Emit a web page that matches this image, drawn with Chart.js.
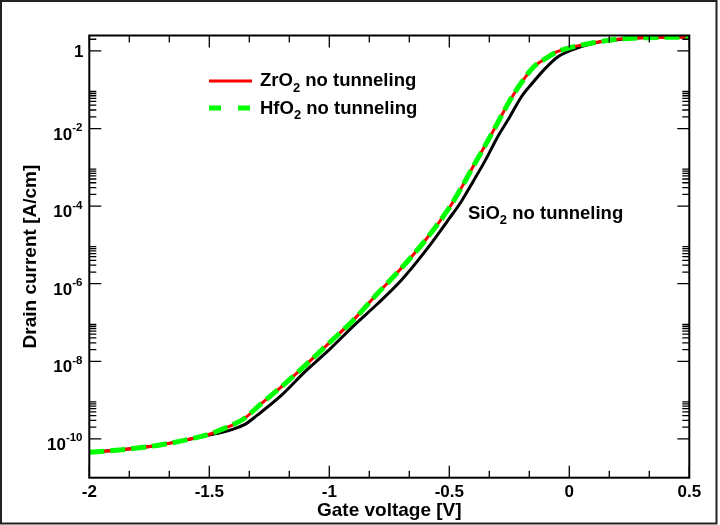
<!DOCTYPE html>
<html>
<head>
<meta charset="utf-8">
<script src="https://cdn.jsdelivr.net/npm/chart.js@4.4.1/dist/chart.umd.min.js"></script>
<style>
  html, body { margin: 0; padding: 0; background: #ffffff; }
  canvas { display: block; }
</style>
</head>
<body>
<canvas id="c" width="720" height="525"></canvas>
<script>
// ---- data ----
const gateVoltage = [-2, -1.9, -1.8, -1.7, -1.6, -1.5, -1.45, -1.4, -1.35, -1.3, -1.2, -1.1, -1.0,
  -0.9, -0.8, -0.7, -0.6, -0.5, -0.45, -0.4, -0.35, -0.3, -0.25, -0.2, -0.15, -0.1, -0.05,
  0, 0.1, 0.2, 0.3, 0.4, 0.5];
const zro2Current = [4.5e-11, 5.0e-11, 5.8e-11, 7.1e-11, 9.3e-11, 1.32e-10, 1.74e-10, 2.34e-10, 3.5e-10,
  6.6e-10, 2.2e-9, 7.9e-9, 3.0e-8, 1.15e-7, 5.5e-7, 2.5e-6, 1.32e-5, 9.1e-5, 2.95e-4, 1.07e-3,
  3.7e-3, 1.35e-2, 5.0e-2, 0.151, 0.38, 0.63, 0.955, 1.20, 1.62, 2.0, 2.19, 2.24, 2.29];
const hfo2Current = [4.5e-11, 5.0e-11, 5.8e-11, 7.1e-11, 9.3e-11, 1.32e-10, 1.74e-10, 2.34e-10, 3.5e-10,
  6.6e-10, 2.2e-9, 7.9e-9, 3.0e-8, 1.15e-7, 5.5e-7, 2.5e-6, 1.32e-5, 9.1e-5, 2.95e-4, 1.07e-3,
  3.7e-3, 1.35e-2, 5.0e-2, 0.151, 0.38, 0.63, 0.955, 1.20, 1.62, 2.0, 2.19, 2.24, 2.29];
const sio2Current = [4.5e-11, 5.0e-11, 5.8e-11, 7.1e-11, 9.3e-11, 1.26e-10, 1.45e-10, 1.78e-10, 2.4e-10,
  4.1e-10, 1.32e-9, 5.5e-9, 2.0e-8, 8.1e-8, 3.0e-7, 1.23e-6, 6.9e-6, 4.8e-5, 1.32e-4, 4.4e-4,
  1.51e-3, 5.9e-3, 1.9e-2, 6.5e-2, 0.158, 0.355, 0.69, 1.0, 1.58, 1.95, 2.19, 2.26, 2.29];

const xMajorTicks = [-2, -1.5, -1, -0.5, 0, 0.5];
const xTickLabels = ['-2', '-1.5', '-1', '-0.5', '0', '0.5'];
const yMajorTicks = [1, 1e-2, 1e-4, 1e-6, 1e-8, 1e-10];
const yTickExponents = ['', '-2', '-4', '-6', '-8', '-10'];
const zro2Label = ['ZrO', '2', ' no tunneling'];
const hfo2Label = ['HfO', '2', ' no tunneling'];
const sio2Label = ['SiO', '2', ' no tunneling'];
const xTitle = 'Gate voltage [V]';
const yTitle = 'Drain current [A/cm]';

// ---- drawing ----
const FONT = '"Liberation Sans", Arial, Helvetica, sans-serif';
Chart.defaults.font.family = FONT;
Chart.defaults.color = '#000';

const pts = (ys) => gateVoltage.map((v, i) => ({ x: v, y: ys[i] }));

// minor ticks derived from the major tick lists
const xMinorTicks = [];
for (let i = 0; i < xMajorTicks.length - 1; i++) {
  const step = (xMajorTicks[i + 1] - xMajorTicks[i]) / 3;
  xMinorTicks.push(xMajorTicks[i] + step, xMajorTicks[i] + 2 * step);
}
const yMinorTicks = [];
yMajorTicks.forEach(m => { for (let k = 2; k <= 9; k++) yMinorTicks.push(m * k); });

function drawSubText(ctx, x, y, parts, size) {
  const big = 'bold ' + size + 'px ' + FONT;
  const small = 'bold ' + Math.round(size * 0.7) + 'px ' + FONT;
  ctx.font = big; const w0 = ctx.measureText(parts[0]).width;
  ctx.font = small; const w1 = ctx.measureText(parts[1]).width;
  ctx.textAlign = 'left';
  ctx.textBaseline = 'alphabetic';
  ctx.font = big; ctx.fillText(parts[0], x, y);
  ctx.font = small; ctx.fillText(parts[1], x + w0, y + 5.5);
  ctx.font = big; ctx.fillText(parts[2], x + w0 + w1, y);
}

const decorPlugin = {
  id: 'decor',
  afterDraw(chart) {
    const { ctx, chartArea: a } = chart;
    const xs = chart.scales.x, ys = chart.scales.y;
    ctx.save();
    ctx.strokeStyle = '#000';
    // inward ticks on all four sides
    ctx.lineWidth = 1.3;
    const vTick = (v, len) => {
      const px = xs.getPixelForValue(v);
      ctx.beginPath();
      ctx.moveTo(px, a.bottom); ctx.lineTo(px, a.bottom - len);
      ctx.moveTo(px, a.top); ctx.lineTo(px, a.top + len);
      ctx.stroke();
    };
    const hTick = (v, len) => {
      const py = ys.getPixelForValue(v);
      if (py < a.top || py > a.bottom) return;
      ctx.beginPath();
      ctx.moveTo(a.left, py); ctx.lineTo(a.left + len, py);
      ctx.moveTo(a.right, py); ctx.lineTo(a.right - len, py);
      ctx.stroke();
    };
    xMajorTicks.forEach(v => vTick(v, 12));
    xMinorTicks.forEach(v => vTick(v, 7));
    yMajorTicks.forEach(v => hTick(v, 12));
    yMinorTicks.forEach(v => hTick(v, 7));

    // frame
    ctx.lineWidth = 2;
    ctx.strokeRect(a.left, a.top, a.right - a.left, a.bottom - a.top);

    // y tick labels with superscript exponents
    ctx.fillStyle = '#000';
    ctx.textBaseline = 'alphabetic';
    yMajorTicks.forEach((v, i) => {
      const py = ys.getPixelForValue(v);
      const exp = yTickExponents[i];
      if (!exp) {
        ctx.font = 'bold 17px ' + FONT; ctx.textAlign = 'right';
        ctx.fillText('1', 83.5, py + 6.5);
        return;
      }
      ctx.font = 'bold 11.5px ' + FONT; const we = ctx.measureText(exp).width;
      ctx.font = 'bold 17px ' + FONT; const wb = ctx.measureText('10').width;
      const x0 = 82.5 - we - wb;
      ctx.textAlign = 'left';
      ctx.fillText('10', x0, py + 11);
      ctx.font = 'bold 11.5px ' + FONT;
      ctx.fillText(exp, x0 + wb, py + 2.5);
    });

    // legend
    ctx.lineWidth = 3; ctx.strokeStyle = '#ff0000'; ctx.setLineDash([]);
    ctx.beginPath(); ctx.moveTo(209, 81); ctx.lineTo(252, 81); ctx.stroke();
    ctx.lineWidth = 5; ctx.strokeStyle = '#00ff00'; ctx.setLineDash([12, 17]);
    ctx.beginPath(); ctx.moveTo(209, 108); ctx.lineTo(252, 108); ctx.stroke();
    ctx.setLineDash([]);
    ctx.fillStyle = '#000';
    drawSubText(ctx, 260, 86, zro2Label, 18.5);
    drawSubText(ctx, 260, 113.5, hfo2Label, 18.5);
    // curve annotation
    drawSubText(ctx, 468, 218.5, sio2Label, 18.5);

    // outer border
    ctx.lineWidth = 2; ctx.strokeStyle = '#222';
    ctx.strokeRect(1, 1, 715.5, 522.5);
    ctx.restore();
  }
};

new Chart(document.getElementById('c').getContext('2d'), {
  type: 'line',
  data: {
    datasets: [
      { label: 'HfO2 no tunneling', data: pts(hfo2Current), borderColor: '#00ff00', borderWidth: 5,
        borderDash: [15, 6], pointRadius: 0, cubicInterpolationMode: 'monotone', order: 0 },
      { label: 'ZrO2 no tunneling', data: pts(zro2Current), borderColor: '#ff0000', borderWidth: 3,
        pointRadius: 0, cubicInterpolationMode: 'monotone', order: 1 },
      { label: 'SiO2 no tunneling', data: pts(sio2Current), borderColor: '#000000', borderWidth: 3,
        pointRadius: 0, cubicInterpolationMode: 'monotone', order: 2 }
    ]
  },
  options: {
    responsive: false,
    animation: false,
    devicePixelRatio: 1,
    layout: { padding: { left: 0, right: 30.7, top: 35.5, bottom: 0 } },
    scales: {
      x: {
        type: 'linear', min: -2, max: 0.5,
        grid: { display: false, drawTicks: false }, border: { display: false },
        afterBuildTicks: (s) => { s.ticks = xMajorTicks.map(v => ({ value: v })); },
        afterFit: (s) => { s.height = 47.3; },
        ticks: {
          autoSkip: false, maxRotation: 0, padding: 4.5,
          font: { size: 17, weight: 'bold' },
          callback: (v) => xTickLabels[xMajorTicks.indexOf(v)]
        },
        title: { display: true, text: xTitle, font: { size: 19, weight: 'bold' }, padding: { top: 0, bottom: 2.6 } }
      },
      y: {
        type: 'logarithmic', min: 1e-11, max: 2.5,
        grid: { display: false, drawTicks: false }, border: { display: false },
        ticks: { display: false },
        afterFit: (s) => { s.width = 89.3; },
        title: { display: true, text: yTitle, font: { size: 19, weight: 'bold' }, padding: { top: 19, bottom: 0 } }
      }
    },
    plugins: { legend: { display: false }, tooltip: { enabled: false } }
  },
  plugins: [decorPlugin]
});
</script>
</body>
</html>
